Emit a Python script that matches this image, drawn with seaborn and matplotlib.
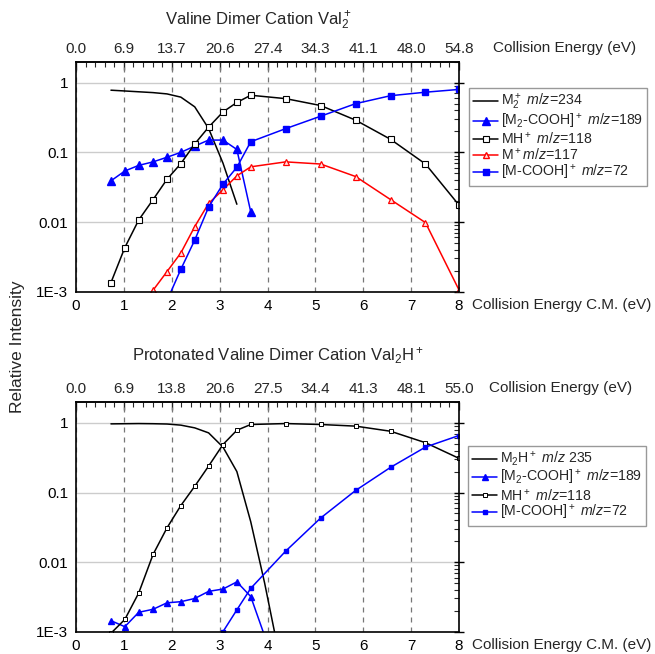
import numpy as np
import matplotlib
matplotlib.use("Agg")
import matplotlib.pyplot as plt
from matplotlib.ticker import FixedLocator, MultipleLocator, LogLocator, NullFormatter
from matplotlib.lines import Line2D
import seaborn as sns

sns.set_style("white")
plt.rcParams["font.family"] = ["Liberation Sans", "DejaVu Sans"]
plt.rcParams["mathtext.fontset"] = "custom"
plt.rcParams["mathtext.rm"] = "Liberation Sans"
plt.rcParams["mathtext.it"] = "Liberation Sans:italic"
plt.rcParams["mathtext.bf"] = "Liberation Sans:bold"

# ---------------- data: top panel (Val2+) ----------------
top_m2_x = [0.73, 1.02, 1.31, 1.61, 1.90, 2.19, 2.48, 2.77, 3.07, 3.36]
top_m2_y = [0.78, 0.76, 0.74, 0.72, 0.69, 0.62, 0.45, 0.22, 0.07, 0.018]

top_m2cooh_x = [0.73, 1.02, 1.31, 1.61, 1.90, 2.19, 2.48, 2.77, 3.07, 3.36, 3.65]
top_m2cooh_y = [0.039, 0.054, 0.065, 0.073, 0.085, 0.10, 0.123, 0.15, 0.15, 0.11, 0.014]

top_mh_x = [0.73, 1.02, 1.31, 1.61, 1.90, 2.19, 2.48, 2.77, 3.07, 3.36, 3.65,
            4.38, 5.11, 5.84, 6.57, 7.30, 8.0]
top_mh_y = [0.00135, 0.0043, 0.0107, 0.021, 0.041, 0.069, 0.132, 0.23, 0.38, 0.52, 0.66,
            0.59, 0.47, 0.29, 0.154, 0.068, 0.0175]

top_m_x = [1.31, 1.61, 1.90, 2.19, 2.48, 2.77, 3.07, 3.36, 3.65, 4.38, 5.11, 5.84, 6.57, 7.30, 8.0]
top_m_y = [0.00056, 0.00105, 0.00194, 0.0036, 0.0086, 0.0185, 0.029, 0.046, 0.062,
           0.073, 0.068, 0.045, 0.021, 0.0098, 0.00106]

top_mcooh_x = [1.90, 2.19, 2.48, 2.77, 3.07, 3.36, 3.65, 4.38, 5.11, 5.84, 6.57, 7.30, 8.0]
top_mcooh_y = [0.00074, 0.0021, 0.0055, 0.0164, 0.035, 0.061, 0.142, 0.219, 0.33, 0.50, 0.65, 0.73, 0.80]

# ---------------- data: bottom panel (Val2H+) ----------------
bot_m2h_x = [0.73, 1.02, 1.31, 1.61, 1.90, 2.19, 2.48, 2.77, 3.07, 3.36, 3.65, 3.94, 4.38]
bot_m2h_y = [0.97, 0.975, 0.98, 0.975, 0.965, 0.93, 0.85, 0.72, 0.45, 0.20, 0.038, 0.005, 0.00016]

bot_m2cooh_x = [0.73, 1.02, 1.31, 1.61, 1.90, 2.19, 2.48, 2.77, 3.07, 3.36, 3.65, 4.38]
bot_m2cooh_y = [0.00144, 0.00118, 0.0019, 0.0021, 0.0026, 0.0027, 0.003, 0.0038, 0.0041,
                0.0052, 0.0032, 0.00012]

bot_mh_x = [0.73, 1.02, 1.31, 1.61, 1.90, 2.19, 2.48, 2.77, 3.07, 3.36, 3.65,
            4.38, 5.11, 5.84, 6.57, 7.30, 8.0]
bot_mh_y = [0.00095, 0.0015, 0.0036, 0.0129, 0.031, 0.065, 0.123, 0.24, 0.49, 0.785, 0.95,
            0.98, 0.95, 0.90, 0.76, 0.52, 0.31]

bot_mcooh_x = [2.77, 3.07, 3.36, 3.65, 4.38, 5.11, 5.84, 6.57, 7.30, 8.0]
bot_mcooh_y = [0.00048, 0.001, 0.00206, 0.0042, 0.0144, 0.043, 0.107, 0.23, 0.45, 0.66]

# ---------------- tick labels ----------------
cm_ticks = [0, 1, 2, 3, 4, 5, 6, 7, 8]
top_lab_labels_1 = ["0.0", "6.9", "13.7", "20.6", "27.4", "34.3", "41.1", "48.0", "54.8"]
top_lab_labels_2 = ["0.0", "6.9", "13.8", "20.6", "27.5", "34.4", "41.3", "48.1", "55.0"]
y_ticks = [1e-3, 1e-2, 1e-1, 1]
y_labels = ["1E-3", "0.01", "0.1", "1"]

title_1 = r"Valine Dimer Cation Val$_2^+$"
title_2 = r"Protonated Valine Dimer Cation Val$_2$H$^+$"
legend_1 = [r"M$_2^+$ $m/z$=234", r"[M$_2$-COOH]$^+$ $m/z$=189", r"MH$^+$ $m/z$=118",
            r"M$^+$$m/z$=117", r"[M-COOH]$^+$ $m/z$=72"]
legend_2 = [r"M$_2$H$^+$ $m/z$ 235", r"[M$_2$-COOH]$^+$ $m/z$=189", r"MH$^+$ $m/z$=118",
            r"[M-COOH]$^+$ $m/z$=72"]

BLUE = "#0000FF"
RED = "#FF0000"
BLACK = "#000000"
FS = 11
LFS = 10.2
LW = 1.1

W, H = 655, 654
fig = plt.figure(figsize=(W / 100, H / 100), dpi=100)


def make_axes(top_px, bot_px):
    left, right = 76, 459
    return fig.add_axes([left / W, 1 - bot_px / H, (right - left) / W, (bot_px - top_px) / H])


def style_axes(ax, top_labels):
    ax.set_yscale("log")
    ax.set_xlim(0, 8)
    ax.set_ylim(1e-3, 2.0)
    ax.set_xticks(cm_ticks)
    ax.set_xticklabels([str(t) for t in cm_ticks])
    ax.xaxis.set_minor_locator(MultipleLocator(0.2))
    ax.yaxis.set_major_locator(FixedLocator(y_ticks))
    ax.set_yticklabels(y_labels)
    ax.yaxis.set_minor_locator(LogLocator(base=10, subs=np.arange(2, 10)))
    ax.yaxis.set_minor_formatter(NullFormatter())
    ax.tick_params(which="major", direction="inout", length=7, width=1, labelsize=FS,
                   right=True, pad=2, colors=BLACK)
    ax.tick_params(which="minor", direction="in", length=3.5, width=0.8, right=True)
    ax.tick_params(axis="x", which="major", direction="inout", length=7)
    ax.grid(False)
    ax.xaxis.grid(True, which="major", ls=(0, (4, 4)), color="#777777", lw=0.9)
    ax.yaxis.grid(True, which="major", ls="-", color="#cccccc", lw=1.0)
    ax.set_axisbelow(True)
    for s in ax.spines.values():
        s.set_color(BLACK)
        s.set_linewidth(1.2)
    ax.set_xlabel("")
    ax.set_ylabel("")
    sec = ax.secondary_xaxis("top")
    sec.set_xticks(cm_ticks)
    sec.set_xticklabels(top_labels)
    sec.xaxis.set_minor_locator(MultipleLocator(0.2))
    sec.tick_params(which="major", direction="in", length=6, width=1, labelsize=FS, pad=4)
    sec.tick_params(which="minor", direction="in", length=3.5, width=0.8)
    sec.spines["top"].set_linewidth(1.2)


def series(ax, x, y, color, marker=None, ms=6, mfc=None, mew=1.0):
    kws = dict(x=x, y=y, ax=ax, color=color, lw=LW, estimator=None, sort=False,
               legend=False, clip_on=True)
    if marker is not None:
        kws.update(marker=marker, markersize=ms, markerfacecolor=mfc if mfc else color,
                   markeredgecolor=color, markeredgewidth=mew)
    sns.lineplot(**kws)


# ---------------- top panel ----------------
ax1 = make_axes(61.7, 291.7)
series(ax1, top_m2_x, top_m2_y, BLACK)
series(ax1, top_m2cooh_x, top_m2cooh_y, BLUE, "^", ms=5.5)
series(ax1, top_mh_x, top_mh_y, BLACK, "s", ms=4.6, mfc="white", mew=0.8)
series(ax1, top_m_x, top_m_y, RED, "^", ms=5.0, mfc="#ffe0e0", mew=0.9)
series(ax1, top_mcooh_x, top_mcooh_y, BLUE, "s", ms=4.6)
style_axes(ax1, top_lab_labels_1)

h1 = [Line2D([], [], color=BLACK, lw=LW),
      Line2D([], [], color=BLUE, lw=LW, marker="^", ms=5.5, mfc=BLUE, mec=BLUE),
      Line2D([], [], color=BLACK, lw=LW, marker="s", ms=4.6, mfc="white", mec=BLACK, mew=0.8),
      Line2D([], [], color=RED, lw=LW, marker="^", ms=5.0, mfc="#ffe0e0", mec=RED),
      Line2D([], [], color=BLUE, lw=LW, marker="s", ms=4.6, mfc=BLUE, mec=BLUE)]
leg1 = fig.legend(h1, legend_1, loc="upper left", bbox_to_anchor=(469 / W, 1 - 88 / H),
                  bbox_transform=fig.transFigure, fontsize=LFS, frameon=True, fancybox=False,
                  edgecolor="#999999", framealpha=1, handlelength=1.8, handletextpad=0.15,
                  labelspacing=0.0, borderpad=0.28, borderaxespad=0, numpoints=1)
leg1.get_frame().set_linewidth(1.0)

# ---------------- bottom panel ----------------
ax2 = make_axes(402, 631.7)
series(ax2, bot_m2h_x, bot_m2h_y, BLACK)
series(ax2, bot_m2cooh_x, bot_m2cooh_y, BLUE, "^", ms=3.8)
series(ax2, bot_mh_x, bot_mh_y, BLACK, "s", ms=3.3, mfc="white", mew=0.7)
series(ax2, bot_mcooh_x, bot_mcooh_y, BLUE, "s", ms=3.3)
style_axes(ax2, top_lab_labels_2)

h2 = [Line2D([], [], color=BLACK, lw=LW),
      Line2D([], [], color=BLUE, lw=LW, marker="^", ms=3.8, mfc=BLUE, mec=BLUE),
      Line2D([], [], color=BLACK, lw=LW, marker="s", ms=3.3, mfc="white", mec=BLACK, mew=0.7),
      Line2D([], [], color=BLUE, lw=LW, marker="s", ms=3.3, mfc=BLUE, mec=BLUE)]
leg2 = fig.legend(h2, legend_2, loc="upper left", bbox_to_anchor=(468 / W, 1 - 446 / H),
                  bbox_transform=fig.transFigure, fontsize=LFS, frameon=True, fancybox=False,
                  edgecolor="#999999", framealpha=1, handlelength=1.8, handletextpad=0.15,
                  labelspacing=0.0, borderpad=0.28, borderaxespad=0, numpoints=1)
leg2.get_frame().set_linewidth(1.0)

# ---------------- texts ----------------
fig.text(258 / W, 1 - 21 / H, title_1, ha="center", va="center", fontsize=12)
fig.text(278 / W, 1 - 356 / H, title_2, ha="center", va="center", fontsize=12)
fig.text(493 / W, 1 - 48 / H, "Collision Energy (eV)", ha="left", va="center", fontsize=FS)
fig.text(489 / W, 1 - 388 / H, "Collision Energy (eV)", ha="left", va="center", fontsize=FS)
fig.text(472 / W, 1 - 305 / H, "Collision Energy C.M. (eV)", ha="left", va="center", fontsize=FS)
fig.text(472 / W, 1 - 645 / H, "Collision Energy C.M. (eV)", ha="left", va="center", fontsize=FS)
fig.text(18 / W, 1 - 347 / H, "Relative Intensity", ha="center", va="center",
         rotation=90, fontsize=12.5)

fig.savefig("out.png", dpi=100, facecolor="white")
